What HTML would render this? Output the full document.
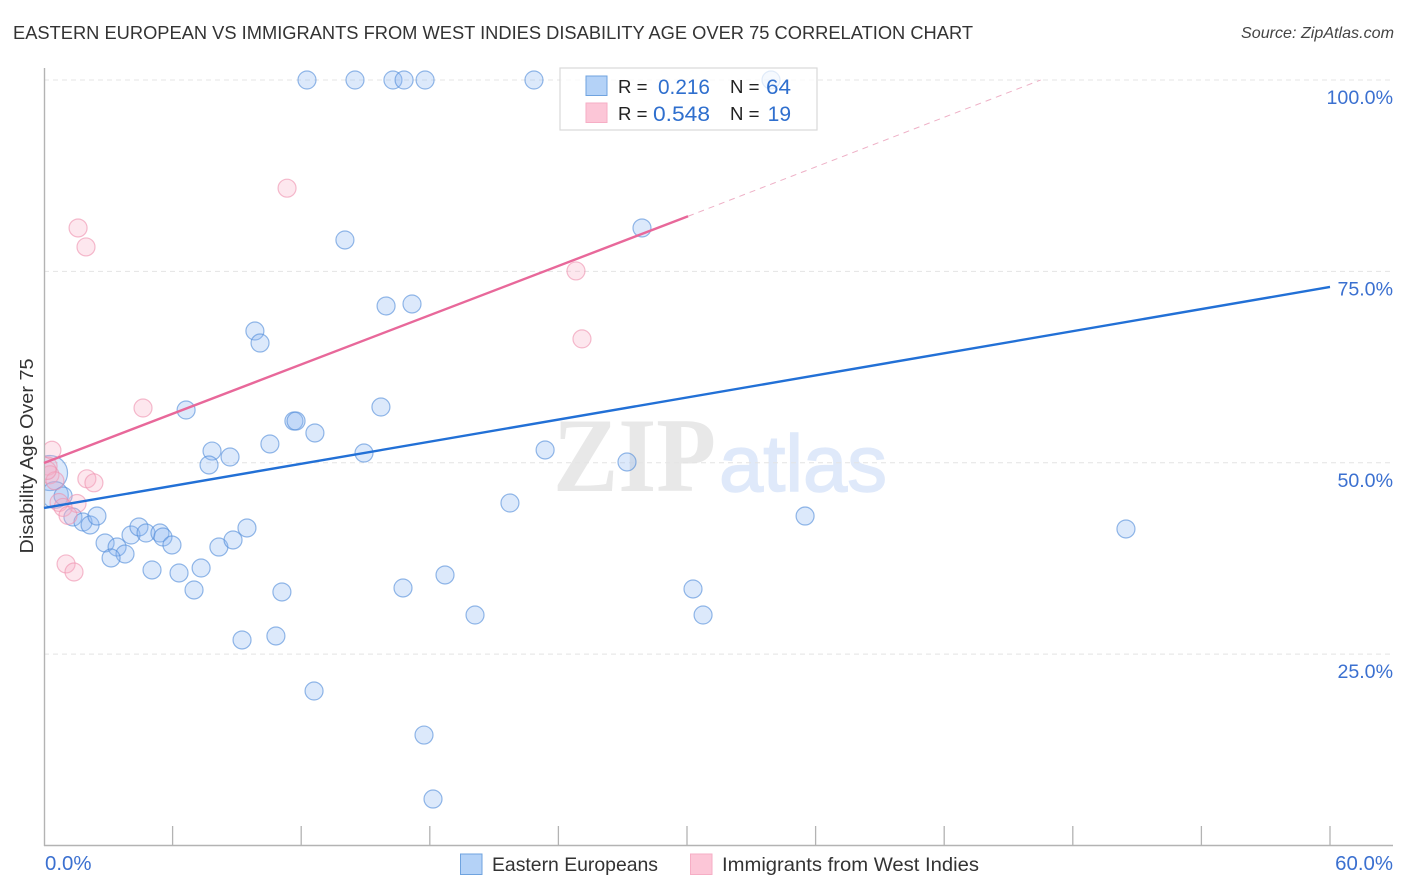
<!DOCTYPE html>
<html lang="en">
<head>
<meta charset="utf-8">
<title>Eastern European vs Immigrants from West Indies Disability Age Over 75 Correlation Chart</title>
<style>
html,body{margin:0;padding:0;background:#fff;width:1406px;height:892px;overflow:hidden}
svg{display:block}
text{font-family:"Liberation Sans",sans-serif}
</style>
</head>
<body>
<svg id="chart" width="1406" height="892" viewBox="0 0 1406 892" xmlns="http://www.w3.org/2000/svg">
  <defs>
    <clipPath id="plot-clip"><rect x="45" y="60" width="1350" height="786"/></clipPath>
  </defs>
  <rect x="0" y="0" width="1406" height="892" fill="#fff"/>
  <text x="13" y="39" font-size="18.6" fill="#333" textLength="960" lengthAdjust="spacingAndGlyphs">EASTERN EUROPEAN VS IMMIGRANTS FROM WEST INDIES DISABILITY AGE OVER 75 CORRELATION CHART</text>
  <text x="1241" y="38" font-size="15.6" font-style="italic" fill="#444" textLength="153" lengthAdjust="spacingAndGlyphs">Source: ZipAtlas.com</text>
  <text x="553" y="491" font-size="106" font-weight="700" fill="#e8e8e8" style="font-family:'Liberation Serif',serif" textLength="163" lengthAdjust="spacingAndGlyphs">ZIP</text>
  <text x="719" y="491" font-size="80" fill="#dfe9fa" stroke="#dfe9fa" stroke-width="1.5" style="font-family:'Liberation Sans',sans-serif" textLength="168" lengthAdjust="spacingAndGlyphs">atlas</text>
  <g id="grid"></g>
  <g id="axes"></g>
  <text transform="translate(33,456) rotate(-90)" font-size="18.4" fill="#333" text-anchor="middle" textLength="195" lengthAdjust="spacingAndGlyphs">Disability Age Over 75</text>
  <g id="marks" clip-path="url(#plot-clip)"></g>
  <g id="lines"></g>

  <g>
    <rect x="560" y="68" width="257" height="62" fill="#fff" fill-opacity="0.72" stroke="#d9d9d9" stroke-width="1.2"/>
    <rect x="586" y="76" width="21" height="19.5" fill="#b4d2f7" stroke="#6fa3df" stroke-width="1"/>
    <rect x="586" y="103" width="21" height="19.5" fill="#fcc6d7" stroke="#f6aec5" stroke-width="1"/>
    <text x="618" y="93" font-size="18.6" fill="#222">R =</text>
    <text x="658" y="94" font-size="21" fill="#2f6fce" textLength="52" lengthAdjust="spacingAndGlyphs">0.216</text>
    <text x="730" y="93" font-size="18.6" fill="#222">N =</text>
    <text x="766" y="94" font-size="21" fill="#2f6fce" textLength="25" lengthAdjust="spacingAndGlyphs">64</text>
    <text x="618" y="120" font-size="18.6" fill="#222">R =</text>
    <text x="653" y="121" font-size="21" fill="#2f6fce" textLength="57" lengthAdjust="spacingAndGlyphs">0.548</text>
    <text x="730" y="120" font-size="18.6" fill="#222">N =</text>
    <text x="791" y="121" font-size="21" fill="#2f6fce" text-anchor="end">19</text>
  </g>

  <g>
    <rect x="460.5" y="854" width="21.5" height="20.5" fill="#b4d2f7" stroke="#6fa3df" stroke-width="1"/>
    <text x="492" y="871" font-size="19.4" fill="#333" textLength="166" lengthAdjust="spacingAndGlyphs">Eastern Europeans</text>
    <rect x="690.5" y="854" width="21.5" height="20.5" fill="#fcc6d7" stroke="#f6aec5" stroke-width="1"/>
    <text x="722" y="871" font-size="19.4" fill="#333" textLength="257" lengthAdjust="spacingAndGlyphs">Immigrants from West Indies</text>
  </g>
</svg>
<script>
// Chart data (percent values)
const xTicks = [0, 6, 12, 18, 24, 30, 36, 42, 48, 54, 60];
const yTicks = [25, 50, 75, 100];
const yTickLabels = ["25.0%", "50.0%", "75.0%", "100.0%"];
const xEdgeTicks = [0, 60];
const xEdgeLabels = ["0.0%", "60.0%"];

const blueX = [0.28,0.51,12.27,14.51,16.28,16.80,17.78,22.86,33.92,27.90,14.04,15.96,17.17,9.84,10.08,6.63,15.72,11.66,11.76,12.64,10.54,7.84,8.68,7.70,14.93,23.38,27.20,21.74,35.51,50.48,0.89,1.35,1.82,2.15,2.47,2.85,3.41,3.78,3.13,4.06,4.43,4.76,5.41,5.55,5.97,5.04,6.30,7.00,7.33,8.16,8.82,9.47,11.10,16.75,18.71,20.11,30.28,30.75,9.24,10.82,12.60,17.73,18.15];
const blueY = [48.66,45.79,100,100,100,100,100,100,100,80.67,79.10,70.48,70.74,67.21,65.64,56.89,57.28,55.45,55.45,53.89,52.45,51.53,50.75,49.71,51.27,51.67,50.10,44.74,43.04,41.35,45.66,42.91,42.26,41.87,43.04,39.52,38.99,38.08,37.56,40.56,41.61,40.82,40.82,40.30,39.26,35.99,35.60,33.38,36.25,38.99,39.91,41.48,33.12,33.64,35.34,30.11,33.51,30.11,26.85,27.37,20.18,14.43,6.07];
// relative sample weight of the first points; remaining points have weight 1
const blueWeight = [3.8, 2.2];

const pinkX = [0.37,0.19,0.28,0.51,2.00,2.33,0.70,1.54,0.89,1.12,1.03,1.40,1.59,1.96,11.34,4.62,24.82,25.10,0.15];
const pinkY = [51.63,49.56,48.43,47.64,47.90,47.38,44.81,44.68,44.16,43.11,36.78,35.73,80.67,78.19,85.87,57.15,75.06,66.18,49.0];
const pinkWeight = [];

const blueTrendX = [0, 60];
const blueTrendY = [44.09, 72.96];
const pinkTrendX = [0, 30.05];
const pinkTrendY = [49.97, 82.2];
const pinkDashX = [30.05, 46.5];
const pinkDashY = [82.2, 100];

// Axis functions
const plot = { x0: 44, x60: 1330, yZero: 845.5, yHundred: 80 };
function xScale(v) { return plot.x0 + (plot.x60 - plot.x0) * v / 60; }
function yScale(v) { return plot.yZero + (plot.yHundred - plot.yZero) * v / 100; }

const NS = 'http://www.w3.org/2000/svg';
function make(tag, attrs, parent) {
  const el = document.createElementNS(NS, tag);
  for (const k in attrs) el.setAttribute(k, attrs[k]);
  parent.appendChild(el);
  return el;
}

const gridG = document.getElementById('grid');
const axesG = document.getElementById('axes');
const marksG = document.getElementById('marks');
const linesG = document.getElementById('lines');

yTicks.forEach(function (t, i) {
  const g = make('line', { x1: 44, x2: 1393, y1: yScale(t), y2: yScale(t), stroke: '#e4e4e4', 'stroke-width': 1, 'stroke-dasharray': '5 4' }, gridG);
  
  
  const lab = make('text', { x: 1393, y: yScale(t) + 24, 'font-size': 19.6, fill: '#3b70d0', 'text-anchor': 'end' }, axesG);
  
  
  lab.textContent = yTickLabels[i];
});

const yAxis = make('line', { x1: 44.5, x2: 44.5, y1: 68, y2: 846, stroke: '#b3b3b3', 'stroke-width': 1.4 }, axesG);


const xAxis = make('line', { x1: 44, x2: 1393, y1: 845.5, y2: 845.5, stroke: '#b3b3b3', 'stroke-width': 1.4 }, axesG);



xTicks.slice(1).forEach(function (t) {
  const tk = make('line', { x1: xScale(t), x2: xScale(t), y1: 826, y2: 845, stroke: '#b3b3b3', 'stroke-width': 1.3 }, axesG);
  
  
});

xEdgeTicks.forEach(function (t, i) {
  const lab = make('text', { x: i === 0 ? 45 : 1393, y: 870, 'font-size': 20.4, fill: '#3b70d0', 'text-anchor': i === 0 ? 'start' : 'end' }, axesG);
  
  
  lab.textContent = xEdgeLabels[i];
});

function drawPoints(xs, ys, weights, fill, stroke, name) {
  xs.forEach(function (xv, i) {
    const w = weights[i] === undefined ? 1 : weights[i];
    const c = make('circle', {
      cx: xScale(xv), cy: yScale(ys[i]), r: 9 * Math.sqrt(w),
      fill: fill, 'fill-opacity': 0.3, stroke: stroke, 'stroke-opacity': 0.6, 'stroke-width': 1.2
    }, marksG);
    
    
  });
}
drawPoints(blueX, blueY, blueWeight, '#8ab6f2', '#4f8ad8', 'eastern-europeans-point');
drawPoints(pinkX, pinkY, pinkWeight, '#f9aec6', '#ee8fae', 'west-indies-point');

const blueLine = make('line', { x1: xScale(blueTrendX[0]), y1: yScale(blueTrendY[0]), x2: xScale(blueTrendX[1]), y2: yScale(blueTrendY[1]), stroke: '#2270d6', 'stroke-width': 2.4 }, linesG);


const pinkLine = make('line', { x1: xScale(pinkTrendX[0]), y1: yScale(pinkTrendY[0]), x2: xScale(pinkTrendX[1]), y2: yScale(pinkTrendY[1]), stroke: '#e8689a', 'stroke-width': 2.4 }, linesG);


const pinkDash = make('line', { x1: xScale(pinkDashX[0]), y1: yScale(pinkDashY[0]), x2: xScale(pinkDashX[1]), y2: yScale(pinkDashY[1]), stroke: '#eeb0c6', 'stroke-width': 1, 'stroke-dasharray': '6 5' }, linesG);


</script>
</body>
</html>
